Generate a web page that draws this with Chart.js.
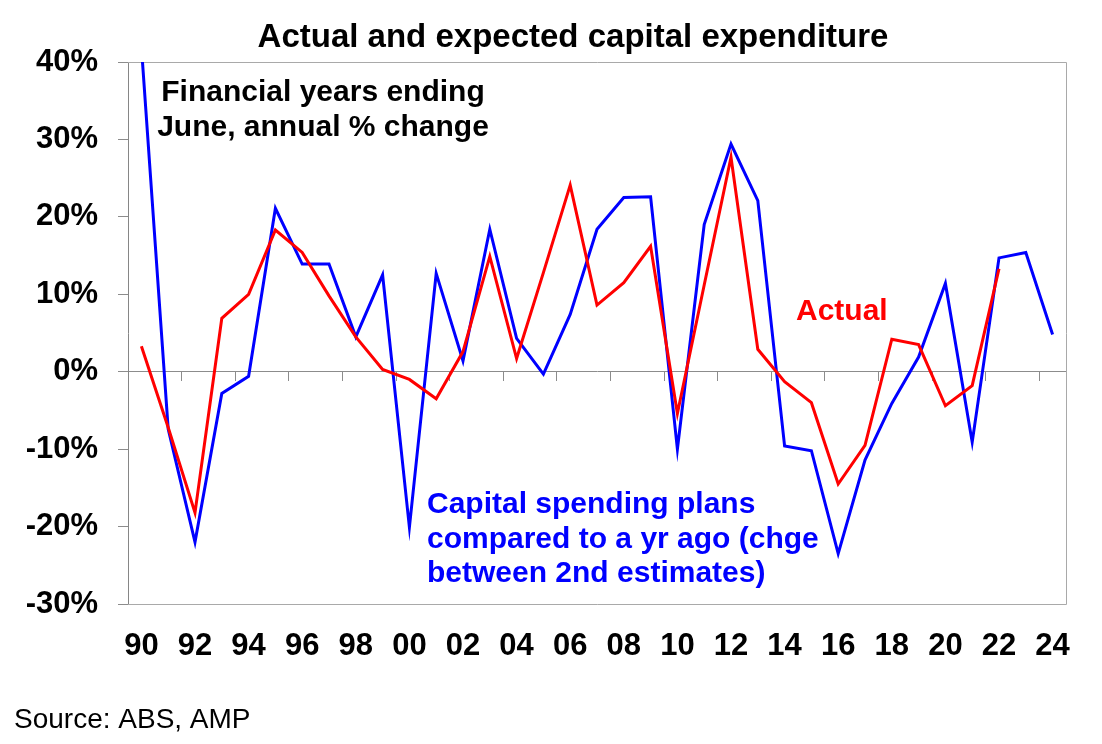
<!DOCTYPE html>
<html>
<head>
<meta charset="utf-8">
<script src="https://cdn.jsdelivr.net/npm/chart.js@4.4.1/dist/chart.umd.min.js"></script>
<style>
  html, body { margin: 0; padding: 0; background: #ffffff; }
  #wrap { width: 1102px; height: 744px; position: relative; }
</style>
</head>
<body>
<div id="wrap"><canvas id="chart"></canvas></div>
<script>
// ---- Data ----
const yearLabels = ['90','91','92','93','94','95','96','97','98','99',
                    '00','01','02','03','04','05','06','07','08','09',
                    '10','11','12','13','14','15','16','17','18','19',
                    '20','21','22','23','24'];

// Capital spending plans compared to a yr ago (chge between 2nd estimates), %
const plansChange = [42, -7.4, -22.0, -2.8, -0.6, 21.1, 13.9, 13.9, 4.5, 12.5,
                     -20.1, 12.7, 1.4, 18.4, 4.3, -0.3, 7.4, 18.4, 22.5, 22.6,
                     -10.0, 19.0, 29.4, 22.1, -9.6, -10.2, -23.5, -11.4, -4.1, 1.9,
                     11.4, -9.1, 14.7, 15.4, 4.8];

// Actual capital expenditure, annual % change
const actualChange = [3.3, -7.2, -18.2, 6.9, 10.0, 18.3, 15.4, 9.8, 4.5, 0.3,
                      -1.0, -3.5, 2.6, 14.9, 1.7, 12.8, 24.1, 8.6, 11.5, 16.2,
                      -5.4, 11.2, 27.7, 2.9, -1.3, -4.0, -14.5, -9.5, 4.2, 3.5,
                      -4.4, -1.8, 13.3, null, null];

const yMin = -30, yMax = 40, yStep = 10;

const FONT = "'Liberation Sans', Arial, Helvetica, sans-serif";

const titleText = 'Actual and expected capital expenditure';
const noteLines = ['Financial years ending', 'June, annual % change'];
const plansLines = ['Capital spending plans', 'compared to a yr ago (chge', 'between 2nd estimates)'];
const actualText = 'Actual';
const sourceText = 'Source: ABS, AMP';

// ---- Plugins: plot frame and text annotations ----
const framePlugin = {
  id: 'frame',
  beforeDatasetsDraw(chart) {
    const {ctx, chartArea: a} = chart;
    ctx.save();
    ctx.strokeStyle = '#a9a9a9';
    ctx.lineWidth = 1;
    ctx.beginPath();
    ctx.moveTo(a.left, Math.round(a.top) + 0.5);
    ctx.lineTo(Math.round(a.right) + 0.5, Math.round(a.top) + 0.5);
    ctx.lineTo(Math.round(a.right) + 0.5, Math.round(a.bottom) + 0.5);
    ctx.lineTo(a.left, Math.round(a.bottom) + 0.5);
    ctx.stroke();
    ctx.restore();
  }
};

const textPlugin = {
  id: 'texts',
  afterDraw(chart) {
    const ctx = chart.ctx;
    ctx.save();
    ctx.textBaseline = 'alphabetic';
    // Title
    ctx.fillStyle = '#000000';
    ctx.font = 'bold 33px ' + FONT;
    ctx.textAlign = 'center';
    ctx.fillText(titleText, 573, 47);
    // Note
    ctx.font = 'bold 30px ' + FONT;
    ctx.fillText(noteLines[0], 323, 101);
    ctx.fillText(noteLines[1], 323, 136);
    // Plans label
    ctx.fillStyle = '#0000ff';
    ctx.textAlign = 'left';
    ctx.fillText(plansLines[0], 427, 513);
    ctx.fillText(plansLines[1], 427, 548);
    ctx.fillText(plansLines[2], 427, 582);
    // Actual label
    ctx.fillStyle = '#ff0000';
    ctx.fillText(actualText, 796, 320);
    // Source
    ctx.fillStyle = '#000000';
    ctx.font = '28px ' + FONT;
    ctx.fillText(sourceText, 14, 728);
    ctx.restore();
  }
};

const ctx = document.getElementById('chart').getContext('2d');
new Chart(ctx, {
  type: 'line',
  data: {
    labels: yearLabels,
    datasets: [
      {
        label: 'Capital spending plans',
        data: plansChange,
        borderColor: '#0000ff',
        backgroundColor: '#0000ff',
        borderWidth: 3,
        pointRadius: 0,
        pointHoverRadius: 0,
        tension: 0,
        xAxisID: 'x',
        yAxisID: 'y',
        order: 2
      },
      {
        label: 'Actual',
        data: actualChange,
        borderColor: '#ff0000',
        backgroundColor: '#ff0000',
        borderWidth: 3,
        pointRadius: 0,
        pointHoverRadius: 0,
        tension: 0,
        spanGaps: false,
        xAxisID: 'x',
        yAxisID: 'y',
        order: 1
      }
    ]
  },
  options: {
    responsive: true,
    maintainAspectRatio: false,
    animation: false,
    events: [],
    layout: { padding: { top: 62, right: 36, bottom: 0, left: 0 } },
    plugins: {
      legend: { display: false },
      title: { display: false },
      tooltip: { enabled: false }
    },
    scales: {
      x: {
        type: 'category',
        position: 'bottom',
        offset: true,
        grid: { display: false, drawTicks: false },
        border: { display: false },
        ticks: {
          autoSkip: false,
          maxRotation: 0,
          minRotation: 0,
          padding: 24,
          color: '#000000',
          font: { family: FONT, size: 31, weight: 'bold' },
          callback: function (value, index) {
            return index % 2 === 0 ? this.getLabelForValue(value) : '';
          }
        },
        afterFit: (s) => { s.height = 140; }
      },
      x0: {
        type: 'category',
        axis: 'x',
        position: { y: 0 },
        offset: true,
        grid: {
          display: true,
          drawOnChartArea: false,
          drawTicks: true,
          tickLength: 9,
          offset: true,
          lineWidth: 1,
          color: (c) => (c.index % 2 === 0 ? '#8c8c8c' : 'rgba(0,0,0,0)')
        },
        border: { display: true, color: '#8c8c8c', width: 1 },
        ticks: { display: false, autoSkip: false }
      },
      y: {
        type: 'linear',
        position: 'left',
        min: yMin,
        max: yMax,
        ticks: {
          stepSize: yStep,
          padding: 20,
          color: '#000000',
          font: { family: FONT, size: 31, weight: 'bold' },
          callback: (v) => v + '%'
        },
        grid: {
          drawOnChartArea: false,
          drawTicks: true,
          tickLength: 10,
          color: '#8c8c8c',
          lineWidth: 1
        },
        border: { display: true, color: '#868686', width: 1 },
        afterFit: (s) => { s.width = 128; }
      }
    }
  },
  plugins: [framePlugin, textPlugin]
});
</script>
</body>
</html>
